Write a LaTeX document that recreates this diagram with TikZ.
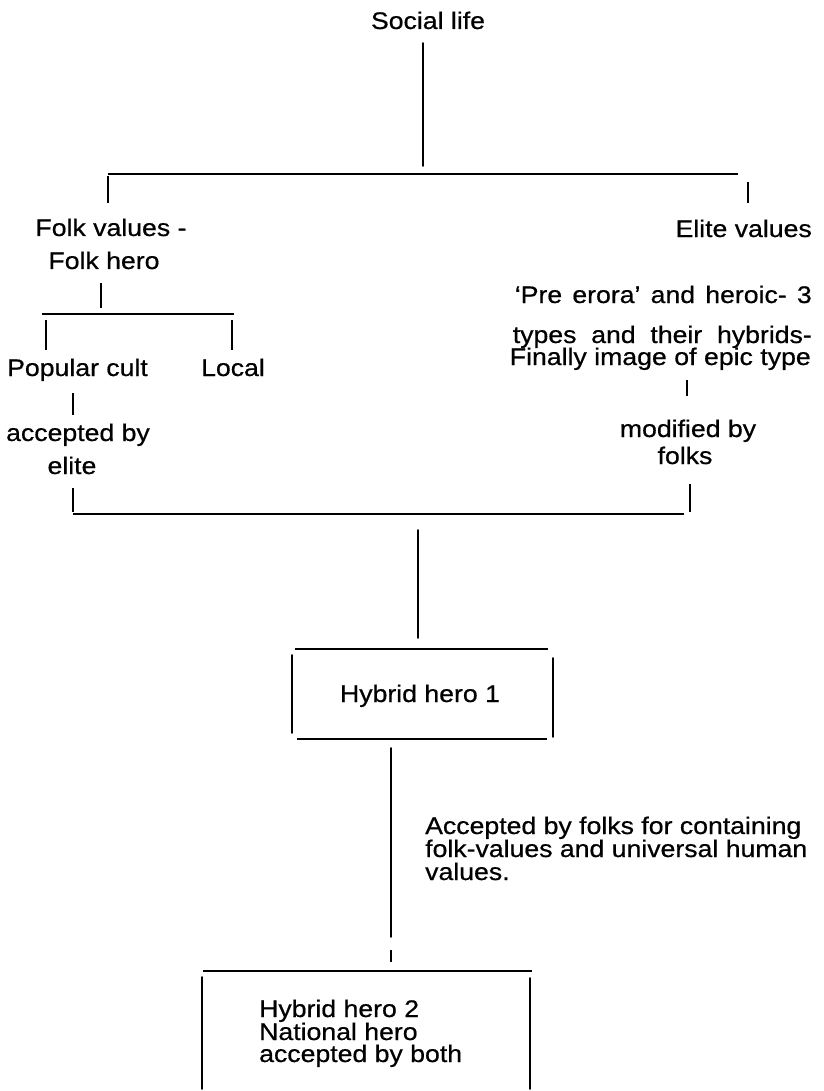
\documentclass[tikz,border=0pt]{standalone}
\usepackage{fontspec}
\setmainfont[FakeStretch=1.11,FakeBold=0.6]{Liberation Sans}
\begin{document}
\begin{tikzpicture}[x=1pt,y=-1pt,
  lbl/.style={inner sep=0pt, font=\fontsize{24}{24}\selectfont, anchor=base, text height=17pt, text depth=2pt},
  lblr/.style={lbl, anchor=base east},
  lbll/.style={lbl, anchor=base west},
  mainline/.style={line width=1.8pt, line cap=round},
  tickline/.style={line width=1.3pt},
  barline/.style={line width=2.2pt}]
\useasboundingbox[fill=white] (0,0) rectangle (823,1091);

% ---- top
\node[lbl] (social) at (428,29) {Social life};
\coordinate (s1) at (423,43); \coordinate (s2) at (423,166);
\draw[mainline] (s1) -- (s2);
\coordinate (h1L) at (108,174); \coordinate (h1R) at (738,174);
\draw[barline] (h1L) -- (h1R);
\coordinate (tl1) at (108,176); \coordinate (tl2) at (108,203);
\draw[tickline] (tl1) -- (tl2);
\coordinate (tr1) at (748,182); \coordinate (tr2) at (748,203);
\draw[tickline] (tr1) -- (tr2);

% ---- left branch
\node[lbl] (folkv) at (111,236) {Folk values -};
\node[lbl] (folkh) at (104,269) {Folk hero};
\coordinate (f1) at (101,283); \coordinate (f2) at (101,308);
\draw[tickline] (f1) -- (f2);
\coordinate (h2L) at (42,314); \coordinate (h2R) at (234,314);
\draw[barline] (h2L) -- (h2R);
\coordinate (p1) at (46,320); \coordinate (p2) at (46,350);
\draw[tickline] (p1) -- (p2);
\coordinate (l1) at (232,320); \coordinate (l2) at (232,350);
\draw[tickline] (l1) -- (l2);
\node[lbl] (popular) at (77.5,376) {Popular cult};
\node[lbl] (local) at (233,376) {Local};
\coordinate (a1) at (73,393); \coordinate (a2) at (73,415);
\draw[tickline] (a1) -- (a2);
\node[lbl] (acc1) at (78,441) {accepted by};
\node[lbl] (acc2) at (72,474) {elite};
\coordinate (e1) at (73,488); \coordinate (e2) at (73,512);
\draw[tickline] (e1) -- (e2);

% ---- right branch
\node[lblr] (elite) at (812,237) {Elite values};
\node[lblr] (pre1) at (812,303) {\makebox[297pt][s]{‘Pre erora’ and heroic- 3}};
\node[lblr] (pre2) at (812,343) {\makebox[299pt][s]{types and their hybrids-}};
\node[lblr] (pre3) at (811,365) {\makebox[301pt][s]{Finally image of epic type}};
\coordinate (m1) at (687,380); \coordinate (m2) at (687,396);
\draw[tickline] (m1) -- (m2);
\node[lbl] (mod1) at (688,437) {modified by};
\node[lbl] (mod2) at (685,464) {folks};
\coordinate (k1) at (690,484); \coordinate (k2) at (690,512);
\draw[tickline] (k1) -- (k2);

% ---- joining bar
\coordinate (h3L) at (73,514); \coordinate (h3R) at (684,514);
\draw[barline] (h3L) -- (h3R);
\coordinate (v1) at (418,530); \coordinate (v2) at (418,638);
\draw[mainline] (v1) -- (v2);

% ---- box 1
\node[lbl] (hh1) at (420,702) {Hybrid hero 1};
\coordinate (b1a) at (295,649); \coordinate (b1b) at (548,649);
\coordinate (b1c) at (292,655); \coordinate (b1d) at (292,733);
\coordinate (b1e) at (553,658); \coordinate (b1f) at (553,737);
\coordinate (b1g) at (297,739); \coordinate (b1h) at (547,739);
\draw[barline] (b1a) -- (b1b);
\draw[mainline] (b1c) -- (b1d);
\draw[mainline] (b1e) -- (b1f);
\draw[barline] (b1g) -- (b1h);

% ---- link to box 2
\coordinate (w1) at (391,748); \coordinate (w2) at (391,937);
\draw[mainline] (w1) -- (w2);
\coordinate (w3) at (391,950); \coordinate (w4) at (391,962);
\draw[tickline] (w3) -- (w4);
\node[lbll] (acc3) at (425,834) {Accepted by folks for containing};
\node[lbll] (acc4) at (425,857) {folk-values and universal human};
\node[lbll] (acc5) at (425,880) {values.};

% ---- box 2
\coordinate (b2a) at (203,971); \coordinate (b2b) at (532,971);
\coordinate (b2c) at (202,977); \coordinate (b2d) at (202,1089);
\coordinate (b2e) at (530,978); \coordinate (b2f) at (530,1089);
\draw[barline] (b2a) -- (b2b);
\draw[mainline] (b2c) -- (b2d);
\draw[mainline] (b2e) -- (b2f);
\node[lbll] (hh2) at (259,1017) {Hybrid hero 2};
\node[lbll] (nat) at (259,1040) {National hero};
\node[lbll] (both) at (259,1062) {accepted by both};
\end{tikzpicture}
\end{document}
